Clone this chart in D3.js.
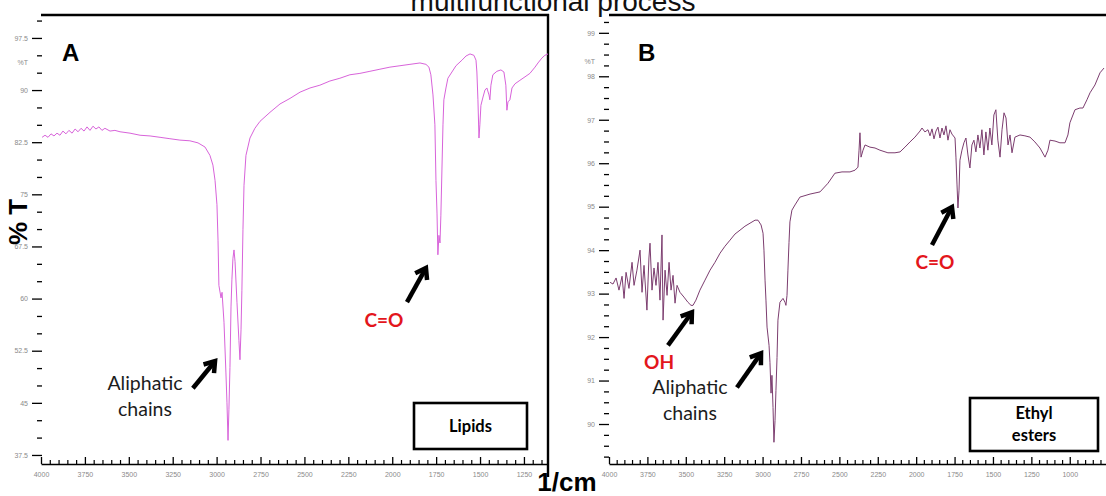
<!DOCTYPE html>
<html>
<head>
<meta charset="utf-8">
<script src="https://cdn.jsdelivr.net/npm/d3@7/dist/d3.min.js"></script>
<style>
  body { margin: 0; background: #fff; }
  svg { display: block; }
</style>
</head>
<body>
<svg id="chart" width="1106" height="496"></svg>
<script>
// ---------- text ----------
const chartTitle = "multifunctional process";
const yTitle = "% T";
const xTitle = "1/cm";

// ---------- panel A: lipids (wavenumber in 1/cm, transmittance in %T) ----------
const lipidWavenumber = [
  3994,3977,3960,3943,3926,3909,3892,3875,3858,3841,
  3823,3806,3789,3772,3755,3738,3721,3704,3687,3670,
  3653,3636,3607,3579,3550,3493,3436,3379,3322,3266,
  3209,3152,3106,3066,3038,3021,3009,2998,2992,2987,
  2975,2969,2958,2947,2941,2935,2930,2924,2918,2913,
  2907,2901,2895,2884,2873,2867,2861,2856,2850,2844,
  2833,2810,2782,2753,2696,2639,2582,2525,2468,2412,
  2355,2298,2241,2184,2127,2070,2013,1956,1899,1842,
  1808,1791,1780,1768,1757,1751,1745,1740,1734,1728,
  1723,1717,1711,1706,1694,1683,1660,1637,1603,1580,
  1557,1535,1523,1518,1512,1506,1501,1495,1483,1472,
  1461,1449,1444,1438,1427,1404,1381,1364,1353,1347,
  1341,1330,1318,1301,1273,1244,1216,1187,1170,1148,
  1131,1113
];
const lipidTransmittance = [
  83.2,83.5,83.2,83.7,83.4,83.8,83.5,84.1,83.7,84.2,
  83.8,84.4,84.0,84.5,84.1,84.7,84.2,84.8,84.4,84.7,
  84.2,84.5,84.1,84.2,84.0,83.8,83.5,83.4,83.2,83.0,
  82.8,82.7,82.4,81.8,80.6,79.2,77.0,73.5,68.4,61.9,
  60.1,60.9,56.6,49.3,45.0,39.6,44.0,50.1,58.8,62.7,
  65.8,67.0,65.3,59.4,54.0,51.2,55.5,61.2,69.9,76.3,
  80.6,83.1,84.5,85.5,86.8,88.0,88.8,89.7,90.3,90.7,
  91.3,91.7,92.2,92.4,92.7,93.0,93.3,93.5,93.7,93.9,
  93.7,93.3,92.2,89.3,85.0,77.0,72.3,66.3,69.1,68.0,
  72.0,78.5,85.0,88.6,90.3,91.7,92.6,93.5,94.3,94.9,
  95.2,95.0,94.3,92.6,88.6,83.1,85.0,87.8,89.0,90.0,
  90.3,89.3,88.6,90.7,92.2,92.7,92.9,92.6,90.7,87.1,
  88.3,88.6,90.3,90.9,91.4,91.9,92.4,93.3,93.9,94.6,
  95.0,95.2
];
const lipidXTicks = [4000,3750,3500,3250,3000,2750,2500,2250,2000,1750,1500,1250];
const lipidYTicks = [97.5,90,82.5,75,67.5,60,52.5,45,37.5];
const lipidUnitAt = 94.0;
const lipidName = ["Lipids"];
const lipidNotes = [
  { lines: ["Aliphatic", "chains"], kind: "band",  label: [3408, 47.8], tail: [3135, 47.1], head: [3009, 51.0] },
  { lines: ["C=O"],                 kind: "group", label: [2047, 56.8], tail: [1916, 59.5], head: [1808, 64.4] }
];

// ---------- panel B: ethyl esters ----------
const esterWavenumber = [
  3993,3974,3954,3935,3915,3902,3889,3870,3850,3837,
  3818,3798,3785,3772,3753,3740,3733,3720,3707,3694,
  3681,3668,3655,3648,3635,3622,3609,3596,3583,3570,
  3557,3538,3512,3486,3466,3453,3434,3408,3375,3342,
  3310,3277,3245,3212,3180,3147,3115,3082,3049,3030,
  3010,2997,2991,2984,2978,2971,2958,2952,2945,2939,
  2932,2926,2919,2913,2906,2900,2887,2867,2854,2848,
  2841,2835,2828,2822,2809,2789,2757,2691,2626,2574,
  2529,2483,2431,2398,2379,2372,2366,2359,2346,2333,
  2301,2268,2236,2184,2138,2105,2073,2040,2008,1975,
  1962,1943,1923,1910,1897,1884,1871,1858,1845,1832,
  1819,1806,1793,1780,1767,1747,1741,1734,1728,1721,
  1715,1702,1689,1676,1663,1650,1637,1624,1611,1598,
  1585,1572,1559,1546,1533,1520,1507,1494,1481,1468,
  1454,1441,1428,1415,1402,1389,1376,1357,1324,1292,
  1259,1227,1194,1161,1142,1129,1096,1064,1031,1012,
  999,966,934,914,888,868,836,803,777
];
const esterTransmittance = [
  93.26,93.22,93.36,93.08,93.40,92.89,93.49,93.12,93.72,93.19,
  93.54,94.00,93.03,93.65,92.62,93.82,94.16,93.08,93.59,93.19,
  93.72,92.85,94.35,92.39,93.54,92.96,93.72,93.08,93.42,92.78,
  93.19,93.03,92.92,92.80,92.73,92.73,92.85,93.08,93.31,93.54,
  93.72,93.93,94.09,94.23,94.37,94.46,94.55,94.62,94.69,94.69,
  94.58,94.39,94.00,93.31,92.85,92.23,91.81,91.42,90.71,91.12,
  90.38,89.58,90.08,90.77,91.53,92.39,92.80,92.89,92.80,92.73,
  92.96,93.54,94.18,94.65,94.92,95.04,95.22,95.29,95.34,95.54,
  95.77,95.80,95.80,95.84,95.91,96.30,96.70,96.14,96.30,96.42,
  96.37,96.35,96.30,96.24,96.24,96.26,96.37,96.49,96.60,96.74,
  96.81,96.72,96.77,96.63,96.79,96.56,96.74,96.83,96.58,96.81,
  96.65,96.86,96.53,96.77,96.67,96.58,96.14,95.50,94.97,95.38,
  96.07,96.30,96.47,96.58,96.19,95.89,96.42,96.53,96.26,96.65,
  96.35,96.77,96.19,96.72,96.30,96.81,96.42,97.11,97.23,96.53,
  96.14,96.77,97.16,97.04,96.42,96.65,96.24,96.60,96.65,96.63,
  96.60,96.49,96.35,96.14,96.30,96.53,96.51,96.47,96.47,96.65,
  96.93,97.23,97.27,97.27,97.46,97.62,97.80,98.08,98.19
];
const esterXTicks = [4000,3750,3500,3250,3000,2750,2500,2250,2000,1750,1500,1250,1000];
const esterYTicks = [99,98,97,96,95,94,93,92,91,90];
const esterUnitAt = 98.33;
const esterName = ["Ethyl", "esters"];
const esterNotes = [
  { lines: ["OH"],                  kind: "group", label: [3674, 91.42], tail: [3616, 91.81], head: [3460, 92.57] },
  { lines: ["Aliphatic", "chains"], kind: "band",  label: [3473, 90.84], tail: [3167, 90.84], head: [3010, 91.63] },
  { lines: ["C=O"],                 kind: "group", label: [1878, 93.72], tail: [1897, 94.12], head: [1767, 94.99] }
];

// ---------- drawing ----------
const svg = d3.select("#chart");
const SANS = "'Liberation Sans', Arial, sans-serif";
const NOTE_FONT = "Lato, 'Open Sans', sans-serif";
const TOP = 15, BASE = 464;

svg.append("text")
  .attr("x", 553).attr("y", 11)
  .attr("text-anchor", "middle")
  .attr("font-family", SANS).attr("font-size", 28)
  .attr("fill", "#111")
  .text(chartTitle);

function drawArrow(g, x1, y1, x2, y2) {
  const a = Math.atan2(y2 - y1, x2 - x1);
  const L = 12, s = 0.6;
  g.append("line")
    .attr("x1", x1).attr("y1", y1)
    .attr("x2", x2 - 3 * Math.cos(a)).attr("y2", y2 - 3 * Math.sin(a))
    .attr("stroke", "#000").attr("stroke-width", 4.5);
  g.append("path")
    .attr("d", `M${x2 - L * Math.cos(a - s)},${y2 - L * Math.sin(a - s)}L${x2},${y2}L${x2 - L * Math.cos(a + s)},${y2 - L * Math.sin(a + s)}`)
    .attr("fill", "none").attr("stroke", "#000")
    .attr("stroke-width", 4.5).attr("stroke-linejoin", "miter");
}

function drawPanel(p) {
  const x = d3.scaleLinear().domain(p.xDomain).range(p.xRange);
  const y = d3.scaleLinear().domain(p.yDomain).range([BASE, TOP]);
  const g = svg.append("g");

  // minor x ticks (every 50 1/cm)
  const xMinor = d3.range(p.xDomain[0], p.xDomain[1], -50).filter(v => v % 250 !== 0);
  g.append("g").attr("transform", `translate(0,${BASE})`)
    .call(d3.axisBottom(x).tickValues(xMinor).tickSize(-4).tickFormat(""))
    .call(s => s.select(".domain").remove())
    .call(s => s.selectAll("line").attr("stroke", "#000").attr("stroke-width", 1.2));

  // major x ticks and axis line
  const gx = g.append("g").attr("transform", `translate(0,${BASE})`)
    .call(d3.axisBottom(x).tickValues(p.xTicks).tickSizeInner(-7).tickSizeOuter(0).tickPadding(8).tickFormat(d3.format("d")));
  gx.select(".domain").attr("stroke", "#000").attr("stroke-width", 1.6);
  gx.selectAll(".tick line").attr("stroke", "#000").attr("stroke-width", 1.3);
  gx.selectAll("text").attr("font-family", SANS).attr("font-size", 7).attr("fill", "#8a8a8a");

  // y ticks
  const gyMinor = g.append("g").attr("transform", `translate(${p.yAxisX},0)`)
    .call(d3.axisLeft(y).tickValues(p.yMinor).tickSize(5).tickFormat(""));
  gyMinor.select(".domain").remove();
  gyMinor.selectAll("line").attr("stroke", "#000").attr("stroke-width", 1.3);

  const gy = g.append("g").attr("transform", `translate(${p.yAxisX},0)`)
    .call(d3.axisLeft(y).tickValues(p.yTicks).tickSize(10).tickPadding(4).tickFormat(d => String(d)));
  gy.select(".domain").remove();
  gy.selectAll("line").attr("stroke", "#000").attr("stroke-width", 1.3);
  gy.selectAll("text").attr("font-family", SANS).attr("font-size", 7).attr("fill", "#8a8a8a");

  // unit marker on the y scale
  g.append("text")
    .attr("x", p.yAxisX - 14).attr("y", y(p.unitAt))
    .attr("dy", "0.32em").attr("text-anchor", "end")
    .attr("font-family", SANS).attr("font-size", 7).attr("fill", "#8a8a8a")
    .text("%T");

  // frame
  g.append("line")
    .attr("x1", p.xRange[0]).attr("x2", p.frameRight ? p.frameRight + 1 : 1106)
    .attr("y1", TOP).attr("y2", TOP)
    .attr("stroke", "#000").attr("stroke-width", 2.4);
  if (p.frameRight) {
    g.append("line")
      .attr("x1", p.frameRight).attr("x2", p.frameRight)
      .attr("y1", TOP - 1).attr("y2", 477)
      .attr("stroke", "#000").attr("stroke-width", 2.4);
  }

  // spectrum
  const clipId = "clip-" + p.id;
  svg.append("clipPath").attr("id", clipId).append("rect")
    .attr("x", p.xRange[0]).attr("y", TOP)
    .attr("width", Math.min(p.xRange[1], 1106) - p.xRange[0]).attr("height", BASE - TOP);
  const line = d3.line().x(d => x(d[0])).y(d => y(d[1]));
  g.append("path")
    .datum(d3.zip(p.wavenumber, p.transmittance))
    .attr("clip-path", `url(#${clipId})`)
    .attr("d", line)
    .attr("fill", "none")
    .attr("stroke", p.color)
    .attr("stroke-width", 1)
    .attr("stroke-linejoin", "round");

  // panel letter
  g.append("text")
    .attr("x", p.letterX).attr("y", 61)
    .attr("font-family", SANS).attr("font-weight", "bold").attr("font-size", 24)
    .attr("fill", "#000")
    .text(p.letter);

  // annotations
  p.notes.forEach(n => {
    const lx = x(n.label[0]), ly = y(n.label[1]);
    n.lines.forEach((t, i) => {
      g.append("text")
        .attr("x", lx).attr("y", ly + i * 26)
        .attr("dy", "0.35em").attr("text-anchor", "middle")
        .attr("font-family", NOTE_FONT)
        .attr("font-size", n.kind === "group" ? 19 : 19.5)
        .attr("font-weight", n.kind === "group" ? "bold" : "normal")
        .attr("fill", n.kind === "group" ? "#e3161c" : "#1c1c1c")
        .text(t);
    });
    drawArrow(g, x(n.tail[0]), y(n.tail[1]), x(n.head[0]), y(n.head[1]));
  });

  // sample name box
  const b = p.box;
  g.append("rect")
    .attr("x", b[0]).attr("y", b[1]).attr("width", b[2]).attr("height", b[3])
    .attr("fill", "#fff").attr("stroke", "#000").attr("stroke-width", 2.6);
  const nLines = p.name.length;
  p.name.forEach((t, i) => {
    g.append("text")
      .attr("x", b[0] + b[2] / 2)
      .attr("y", b[1] + b[3] / 2 + (i - (nLines - 1) / 2) * 22)
      .attr("dy", "0.35em").attr("text-anchor", "middle")
      .attr("font-family", NOTE_FONT).attr("font-weight", "bold").attr("font-size", 16.5)
      .attr("fill", "#000")
      .text(t);
  });
}

drawPanel({
  id: "lipids", letter: "A", letterX: 62,
  xDomain: [4000, 1113], xRange: [41, 548],
  yDomain: [36.2, 100.8], yAxisX: 42,
  xTicks: lipidXTicks, yTicks: lipidYTicks,
  yMinor: d3.range(37.5, 100.1, 2.5).filter(v => !lipidYTicks.includes(v)),
  unitAt: lipidUnitAt,
  wavenumber: lipidWavenumber, transmittance: lipidTransmittance,
  color: "#d863da", notes: lipidNotes, name: lipidName,
  box: [414, 403, 113, 46], frameRight: 548
});

drawPanel({
  id: "esters", letter: "B", letterX: 638,
  xDomain: [4000, 764], xRange: [609, 1106],
  yDomain: [89.08, 99.41], yAxisX: 609,
  xTicks: esterXTicks, yTicks: esterYTicks,
  yMinor: d3.range(89.25, 99.4, 0.25).filter(v => Math.abs(v - Math.round(v)) > 0.01),
  unitAt: esterUnitAt,
  wavenumber: esterWavenumber, transmittance: esterTransmittance,
  color: "#7c3d6f", notes: esterNotes, name: esterName,
  box: [970, 398, 128, 53], frameRight: null
});

// axis titles
svg.append("text")
  .attr("transform", "translate(27,222) rotate(-90)")
  .attr("text-anchor", "middle")
  .attr("font-family", SANS).attr("font-weight", "bold").attr("font-size", 26)
  .attr("fill", "#000")
  .text(yTitle);

svg.append("text")
  .attr("x", 567).attr("y", 491)
  .attr("text-anchor", "middle")
  .attr("font-family", SANS).attr("font-weight", "bold").attr("font-size", 26)
  .attr("fill", "#000")
  .text(xTitle);
</script>
</body>
</html>
